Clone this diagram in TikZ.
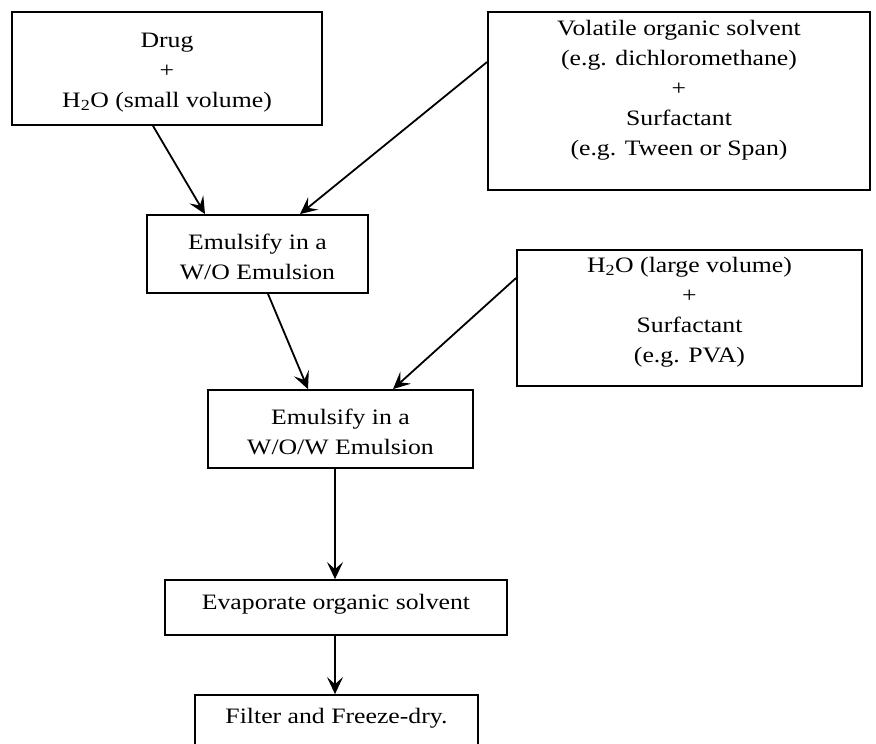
\documentclass[tikz,border=0pt]{standalone}
\usepackage{fontspec}
\setmainfont[FakeStretch=1.17]{Liberation Serif}
\usetikzlibrary{arrows.meta}
\begin{document}
\begin{tikzpicture}[x=1pt,y=-1pt,
  box/.style={draw=black, line width=1.8pt, inner sep=0pt},
  txt/.style={align=center, font=\fontsize{22}{30}\selectfont, inner sep=0pt},
  arr/.style={line width=1.8pt, -{Stealth[length=17pt,width=16pt,inset=7pt]}}]
\useasboundingbox (0,0) rectangle (876,744);
\fill[white] (0,0) rectangle (876,744);
% boxes
\node[box, minimum width=310pt, minimum height=113pt] (b1) at (167,68.5) {};
\node[box, minimum width=382pt, minimum height=178pt] (b2) at (679,101) {};
\node[box, minimum width=221pt, minimum height=78pt] (b3) at (257.5,254) {};
\node[box, minimum width=345pt, minimum height=136pt] (b4) at (689.5,318) {};
\node[box, minimum width=265pt, minimum height=78pt] (b5) at (340.5,429) {};
\node[box, minimum width=342pt, minimum height=55pt] (b6) at (336,607.5) {};
\node[box, minimum width=283pt, minimum height=54pt] (b7) at (336.5,722) {};
% texts
\node[txt] (t1) at (167,73) {Drug\\+\\H\textsubscript{2}O (small volume)};
\node[txt] (t2) at (679,90) {Volatile organic solvent\\(e.g. dichloromethane)\\+\\Surfactant\\(e.g. Tween or Span)};
\node[txt] (t3) at (257.5,257) {Emulsify in a\\W/O Emulsion};
\node[txt] (t4) at (689.5,312) {H\textsubscript{2}O (large volume)\\+\\Surfactant\\(e.g. PVA)};
\node[txt] (t5) at (340.5,432) {Emulsify in a\\W/O/W Emulsion};
\node[txt] (t6) at (336,604) {Evaporate organic solvent};
\node[txt] (t7) at (336.5,718) {Filter and Freeze-dry.};
% connectors
\draw[arr] ([xshift=-14pt]b1.south) -- ([xshift=-52.5pt]b3.north);
\draw[arr] ([yshift=39pt]b2.west) -- ([xshift=42.5pt]b3.north);
\draw[arr] ([xshift=10.5pt]b3.south) -- ([xshift=-32.5pt]b5.north);
\draw[arr] ([yshift=40pt]b4.west) -- ([xshift=52.5pt]b5.north);
\draw[arr] ([xshift=-5.5pt]b5.south) -- ([xshift=-1pt]b6.north);
\draw[arr] ([xshift=-1pt]b6.south) -- ([xshift=-1.5pt]b7.north);
\end{tikzpicture}
\end{document}
